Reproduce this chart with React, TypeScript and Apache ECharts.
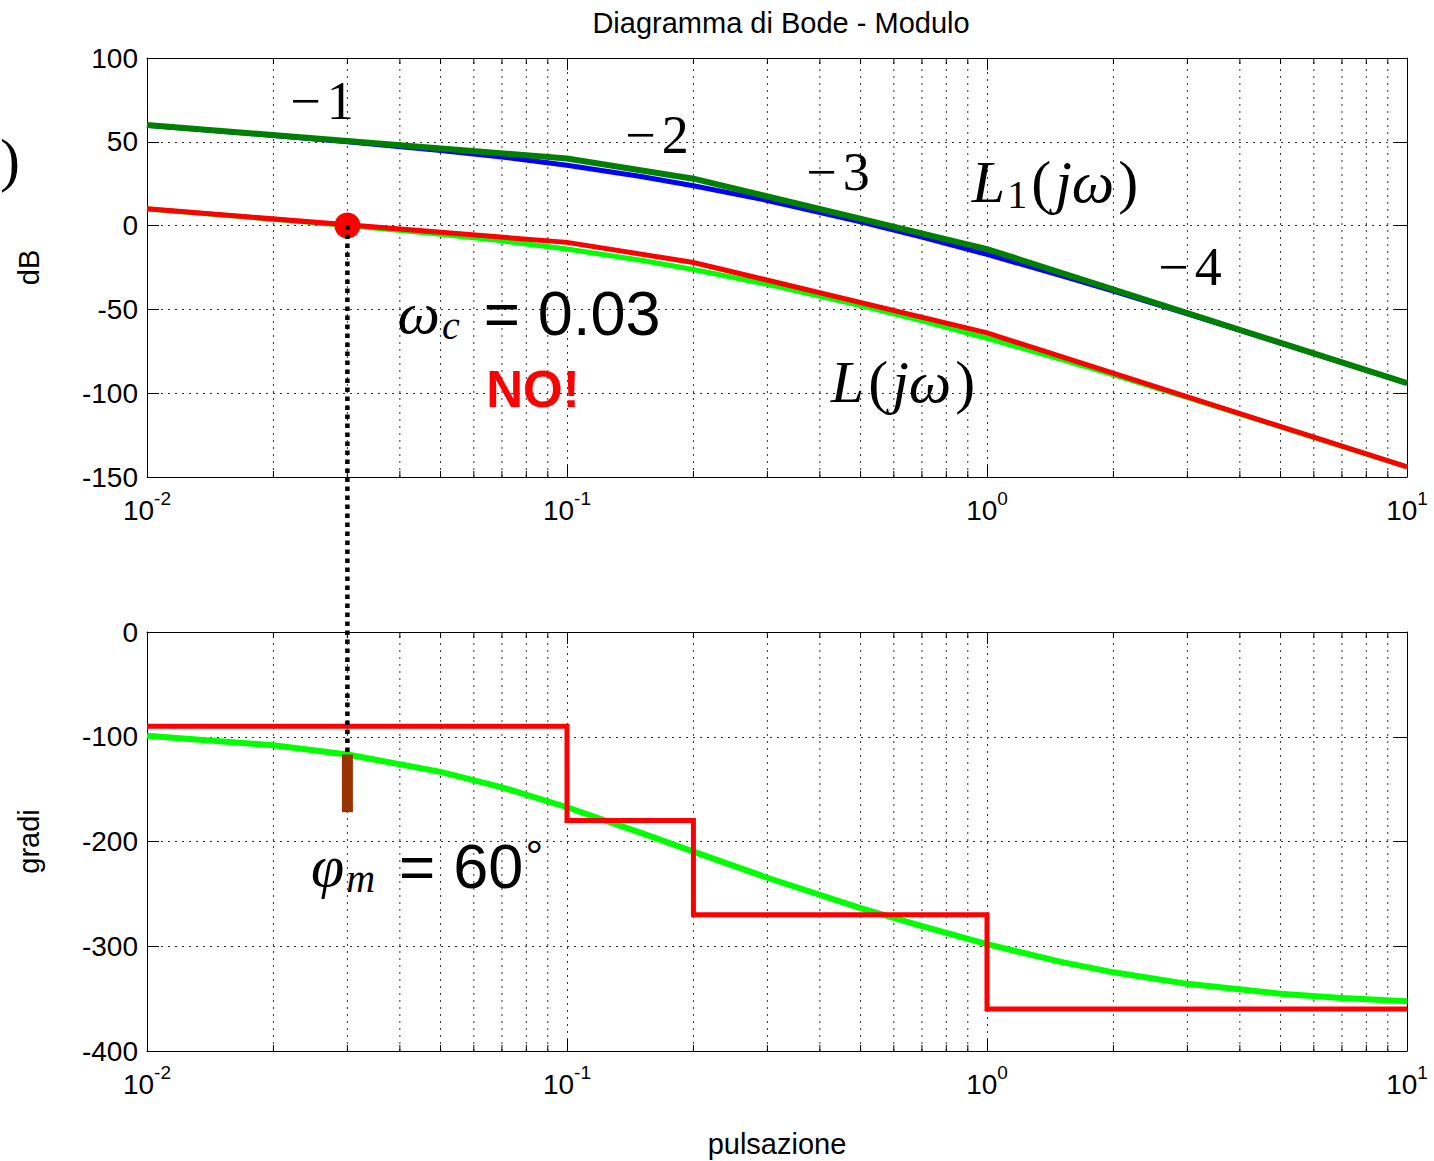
import React, { useEffect, useRef } from "react";
import * as echarts from "echarts";

// ---- data ----
const freq = [0.01, 0.02, 0.03, 0.05, 0.07, 0.1, 0.15, 0.2, 0.3, 0.5, 0.7, 1, 1.5, 2, 3, 5, 7, 10];
const magL1Exact = [59.9, 53.8, 50.0, 44.8, 40.9, 36.0, 29.3, 23.8, 15.0, 2.3, -6.8, -17.2, -29.8, -39.1, -52.6, -70.1, -81.7, -94.0];
const magLExact = [9.9, 3.8, 0.0, -5.2, -9.1, -14.0, -20.7, -26.2, -35.0, -47.7, -56.8, -67.2, -79.8, -89.1, -102.6, -120.1, -131.7, -144.0];
const breakFreq = [0.01, 0.1, 0.2, 1, 10];
const magL1Asym = [60, 40, 28, -14, -94];
const magLAsym = [10, -10, -22, -64, -144];
const phaseExact = [-99.1, -108.2, -117.0, -133.5, -148.3, -167.3, -191.7, -209.7, -234.6, -263.5, -280.9, -298.0, -314.9, -324.9, -335.9, -345.3, -349.4, -352.6];
const stepFreq = [0.01, 0.1, 0.1, 0.2, 0.2, 1, 1, 10];
const phaseAsym = [-90, -90, -180, -180, -270, -270, -360, -360];
const crossFreq = 0.03;
const crossMag = 0;
const crossPhase = -117;
const marginEnd = -172;
const minorFreq = [0.02, 0.03, 0.04, 0.05, 0.06, 0.07, 0.08, 0.09, 0.2, 0.3, 0.4, 0.5, 0.6, 0.7, 0.8, 0.9, 2, 3, 4, 5, 6, 7, 8, 9];
const xMin = 0.01;
const xMax = 10;
const magMin = -150;
const magMax = 100;
const magStep = 50;
const phMin = -400;
const phMax = 0;
const phStep = 100;

const SANS = "'Liberation Sans', Arial, sans-serif";
const SERIF = "'Liberation Serif', 'Times New Roman', serif";

const zip = (a: number[], b: number[]) => a.map((v, i) => [v, b[i]]);

const dotted = { color: "#333", width: 1, type: [2, 5] as any };

function xLabel(v: number) {
  const e = Math.round(Math.log10(v));
  return "{b|10}{s|" + e + "}";
}

const xRich = {
  b: { fontSize: 28, fontFamily: SANS, color: "#000", verticalAlign: "bottom" },
  s: { fontSize: 19, fontFamily: SANS, color: "#000", verticalAlign: "top", padding: [0, 0, 16, 0] },
};

function xAxes(grid: number, name?: string) {
  return [
    {
      gridIndex: grid,
      type: "log",
      logBase: 10,
      min: xMin,
      max: xMax,
      position: "bottom",
      name: name,
      nameLocation: "middle",
      nameGap: 78,
      nameTextStyle: { fontSize: 29, fontFamily: SANS, color: "#000" },
      axisLine: { show: true, onZero: false, lineStyle: { color: "#000", width: 1 } },
      axisTick: { show: true, inside: true, length: 12, lineStyle: { color: "#000" } },
      axisLabel: { show: true, margin: 12, formatter: xLabel, rich: xRich, showMinLabel: true, showMaxLabel: true },
      splitLine: { show: true, lineStyle: dotted },
      minorTick: { show: false },
    },
    {
      gridIndex: grid,
      type: "log",
      logBase: 10,
      min: xMin,
      max: xMax,
      position: "top",
      axisLine: { show: true, onZero: false, lineStyle: { color: "#000", width: 1 } },
      axisTick: { show: true, inside: true, length: 12, lineStyle: { color: "#000" } },
      axisLabel: { show: false },
      splitLine: { show: false },
    },
  ];
}

function yAxes(grid: number, min: number, max: number, step: number, name: string) {
  return [
    {
      gridIndex: grid,
      type: "value",
      min,
      max,
      interval: step,
      position: "left",
      name,
      nameLocation: "middle",
      nameGap: 104,
      nameTextStyle: { fontSize: 29, fontFamily: SANS, color: "#000" },
      axisLine: { show: true, onZero: false, lineStyle: { color: "#000", width: 1 } },
      axisTick: { show: true, inside: true, length: 12, lineStyle: { color: "#000" } },
      axisLabel: { show: true, margin: 9, fontSize: 28, fontFamily: SANS, color: "#000" },
      splitLine: { show: true, lineStyle: dotted },
    },
    {
      gridIndex: grid,
      type: "value",
      min,
      max,
      interval: step,
      position: "right",
      axisLine: { show: true, onZero: false, lineStyle: { color: "#000", width: 1 } },
      axisTick: { show: true, inside: true, length: 12, lineStyle: { color: "#000" } },
      axisLabel: { show: false },
      splitLine: { show: false },
    },
  ];
}

function minorGrid(xi: number, yi: number, lo: number, hi: number) {
  return {
    type: "custom",
    xAxisIndex: xi,
    yAxisIndex: yi,
    silent: true,
    z: 1,
    data: minorFreq.map((f) => [f, lo]),
    renderItem: (_p: any, api: any) => {
      const x = api.value(0);
      const a = api.coord([x, lo]);
      const b = api.coord([x, hi]);
      return {
        type: "group",
        children: [
          { type: "line", shape: { x1: a[0], y1: a[1], x2: b[0], y2: b[1] }, style: { stroke: "#333", lineWidth: 1, lineDash: [2, 5] } },
          { type: "line", shape: { x1: a[0], y1: a[1], x2: a[0], y2: a[1] - 6 }, style: { stroke: "#000", lineWidth: 1 } },
          { type: "line", shape: { x1: b[0], y1: b[1], x2: b[0], y2: b[1] + 6 }, style: { stroke: "#000", lineWidth: 1 } },
        ],
      };
    },
  };
}

function line(xi: number, yi: number, data: number[][], color: string, width: number, z: number) {
  return {
    type: "line",
    xAxisIndex: xi,
    yAxisIndex: yi,
    data,
    symbol: "none",
    showSymbol: false,
    silent: true,
    z,
    lineStyle: { color, width, cap: "butt", join: "miter" },
  };
}

function annotations() {
  const txt = (x: number, y: number, text: string, rich: any, extra: any = {}) => ({
    type: "text",
    x,
    y,
    z: 50,
    style: { text, rich, textAlign: "center", textVerticalAlign: "middle", fill: "#000", ...extra },
  });
  const minus = { m: { fontSize: 54, fontFamily: SERIF, fill: "#000" }, d: { fontSize: 54, fontFamily: SERIF, fill: "#000", padding: [0, 0, 0, 6] } };
  const it = { fontSize: 60, fontFamily: SERIF, fontStyle: "italic", fill: "#000", padding: [0, 2, 0, 2] };
  const rm = { fontSize: 60, fontFamily: SERIF, fill: "#000", padding: [0, 2, 0, 2] };
  const sub = { fontSize: 40, fontFamily: SERIF, fill: "#000", verticalAlign: "top", padding: [24, 2, 0, 0] };
  const subIt = { ...sub, fontStyle: "italic" };
  const eq = { fontSize: 62, fontFamily: SANS, fill: "#000", padding: [0, 18, 0, 22] };
  const sans = { fontSize: 63, fontFamily: SANS, fill: "#000" };
  const deg = { fontSize: 44, fontFamily: SANS, fill: "#000", verticalAlign: "top", padding: [0, 0, 14, 2] };
  return [
    txt(0, 160, "{p|)}", { p: { fontSize: 60, fontFamily: SERIF, fill: "#000" } }, { textAlign: "left" }),
    txt(322, 101, "{m|\u2212}{d|1}", minus),
    txt(657, 135, "{m|\u2212}{d|2}", minus),
    txt(838, 172, "{m|\u2212}{d|3}", minus),
    txt(1190, 267, "{m|\u2212}{d|4}", minus),
    txt(1055, 182, "{i|L}{s|1}{r|(}{i|j\u03c9}{r|)}", { i: it, s: sub, r: rm }),
    txt(903, 382, "{i|L}{r|(}{i|j\u03c9}{r|)}", { i: it, r: rm }),
    txt(528, 313, "{i|\u03c9}{s|c}{e|=}{n|0.03}", { i: it, s: subIt, e: eq, n: sans }),
    txt(533, 389, "{b|NO!}", { b: { fontSize: 51, fontFamily: SANS, fontWeight: "bold", fill: "#ff0000" } }),
    txt(426, 866, "{i|\u03c6}{s|m}{e|=}{n|60}{g|\u00b0}", { i: it, s: subIt, e: eq, n: sans, g: deg }),
  ];
}

export default function App() {
  const ref = useRef<HTMLDivElement>(null);
  useEffect(() => {
    if (!ref.current) return;
    const chart = echarts.init(ref.current, undefined, { renderer: "svg" });
    chart.setOption({
      animation: false,
      backgroundColor: "#fff",
      title: {
        text: "Diagramma di Bode - Modulo",
        left: 776,
        top: 3,
        textAlign: "center",
        textStyle: { fontSize: 29, fontWeight: "normal", fontFamily: SANS, color: "#000" },
      },
      grid: [
        { left: 147, top: 58, width: 1260, height: 419 },
        { left: 147, top: 632, width: 1260, height: 419 },
      ],
      xAxis: [...xAxes(0), ...xAxes(1, "pulsazione")],
      yAxis: [...yAxes(0, magMin, magMax, magStep, "dB"), ...yAxes(1, phMin, phMax, phStep, "gradi")],
      series: [
        minorGrid(0, 0, magMin, magMax),
        minorGrid(2, 2, phMin, phMax),
        line(0, 0, zip(freq, magL1Exact), "#0000ff", 5, 3),
        line(0, 0, zip(breakFreq, magL1Asym), "#008000", 6, 4),
        line(0, 0, zip(freq, magLExact), "#00ff00", 5, 3),
        line(0, 0, zip(breakFreq, magLAsym), "#ff0000", 5, 4),
        {
          type: "scatter",
          xAxisIndex: 0,
          yAxisIndex: 0,
          data: [[crossFreq, crossMag]],
          symbol: "circle",
          symbolSize: 26,
          itemStyle: { color: "#ff0000", opacity: 1 },
          silent: true,
          z: 6,
        },
        line(2, 2, zip(freq, phaseExact), "#00ff00", 6, 3),
        line(2, 2, zip(stepFreq, phaseAsym), "#ff0000", 5, 4),
        line(2, 2, [[crossFreq, crossPhase], [crossFreq, marginEnd]], "#993300", 11, 5),
      ],
    });
    const a = chart.convertToPixel({ xAxisIndex: 0, yAxisIndex: 0 }, [crossFreq, crossMag]) as number[];
    const b = chart.convertToPixel({ xAxisIndex: 2, yAxisIndex: 2 }, [crossFreq, crossPhase]) as number[];
    chart.setOption({
      graphic: [
        ...annotations(),
        {
          type: "line",
          z: 60,
          shape: { x1: a[0], y1: a[1], x2: b[0], y2: b[1] },
          style: { stroke: "#000", lineWidth: 4.5, lineDash: [4.5, 4.5] },
        },
      ],
    });
    return () => chart.dispose();
  }, []);
  return <div ref={ref} style={{ width: 1434, height: 1161, position: "absolute", left: 0, top: 0 }} />;
}
